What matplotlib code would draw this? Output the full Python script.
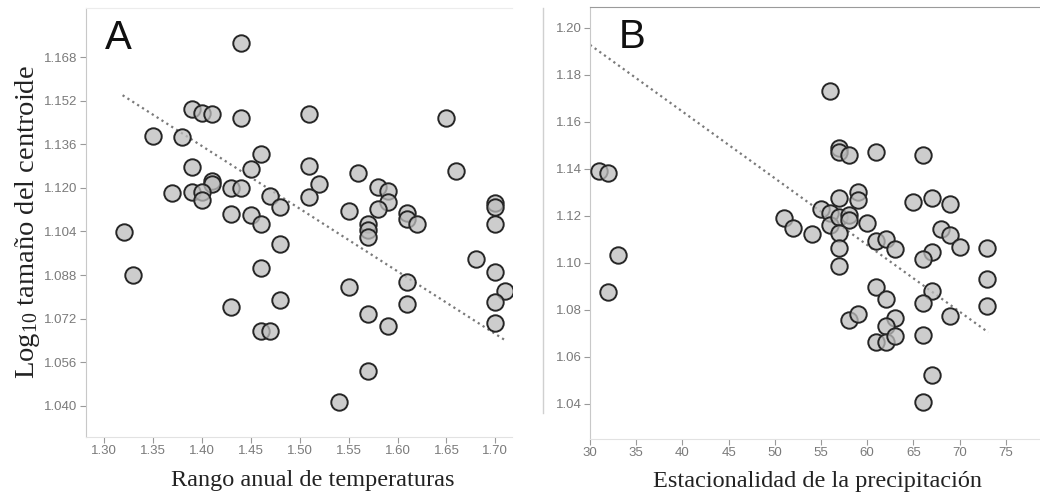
import matplotlib
matplotlib.use("Agg")
import matplotlib.pyplot as plt
from matplotlib.lines import Line2D

# ── Panel A: rango anual de temperaturas ──
temp_x = [1.44, 1.39, 1.40, 1.41, 1.44, 1.51, 1.65, 1.35, 1.38, 1.46,
          1.39, 1.45, 1.51, 1.66, 1.56, 1.41, 1.41, 1.52, 1.37, 1.39,
          1.40, 1.40, 1.43, 1.44, 1.47, 1.48, 1.51, 1.58, 1.59, 1.59,
          1.58, 1.55, 1.61, 1.61, 1.62, 1.70, 1.70, 1.70, 1.43, 1.45,
          1.46, 1.57, 1.57, 1.57, 1.32, 1.48, 1.33, 1.46, 1.68, 1.70,
          1.61, 1.55, 1.71, 1.70, 1.48, 1.43, 1.61, 1.57, 1.59, 1.70,
          1.46, 1.47, 1.57, 1.54]
temp_y = [1.173, 1.149, 1.1475, 1.147, 1.1456, 1.147, 1.1456, 1.139, 1.1386, 1.1324,
          1.1275, 1.1271, 1.128, 1.1262, 1.1254, 1.1225, 1.1215, 1.1214, 1.118, 1.1186,
          1.1186, 1.1155, 1.1198, 1.1198, 1.117, 1.113, 1.1166, 1.1203, 1.119, 1.1148,
          1.1122, 1.1116, 1.1107, 1.1085, 1.1067, 1.1144, 1.113, 1.1067, 1.1106, 1.110,
          1.1067, 1.1069, 1.1045, 1.102, 1.1038, 1.0994, 1.088, 1.0906, 1.0939, 1.0891,
          1.0854, 1.0836, 1.0821, 1.0781, 1.0788, 1.0763, 1.0774, 1.0737, 1.0693, 1.0704,
          1.0675, 1.0675, 1.0528, 1.0414]
temp_trend_x = [1.319, 1.710]
temp_trend_y = [1.154, 1.0641]
temp_xticks = [1.30, 1.35, 1.40, 1.45, 1.50, 1.55, 1.60, 1.65, 1.70]
temp_yticks = [1.040, 1.056, 1.072, 1.088, 1.104, 1.120, 1.136, 1.152, 1.168]

# ── Panel B: estacionalidad de la precipitación ──
prec_x = [56, 57, 57, 58, 61, 66, 31, 32, 59, 59,
          57, 65, 67, 69, 55, 56, 56, 57, 58, 58,
          60, 51, 52, 54, 57, 68, 69, 61, 62, 63,
          67, 70, 73, 57, 57, 33, 66, 73, 73, 32,
          61, 62, 67, 66, 69, 58, 59, 63, 62, 61,
          62, 63, 66, 67, 66]
prec_y = [1.1732, 1.1489, 1.1472, 1.146, 1.1472, 1.1457, 1.1391, 1.1383, 1.1303, 1.1268,
          1.1275, 1.126, 1.1278, 1.125, 1.1228, 1.1212, 1.1162, 1.1197, 1.1204, 1.1183,
          1.1169, 1.119, 1.1148, 1.1123, 1.1129, 1.1143, 1.1119, 1.1091, 1.1102, 1.1058,
          1.1044, 1.1067, 1.1062, 1.1063, 1.0987, 1.1035, 1.1017, 1.0932, 1.0817, 1.0874,
          1.0899, 1.0847, 1.0882, 1.0831, 1.0775, 1.0757, 1.0783, 1.0765, 1.0729, 1.0665,
          1.0665, 1.0687, 1.0694, 1.0521, 1.0406]
prec_trend_x = [30.0, 73.1]
prec_trend_y = [1.1928, 1.0704]
prec_xticks = [30, 35, 40, 45, 50, 55, 60, 65, 70, 75]
prec_yticks = [1.04, 1.06, 1.08, 1.10, 1.12, 1.14, 1.16, 1.18, 1.20]

plt.rcParams["mathtext.fontset"] = "custom"
plt.rcParams["mathtext.rm"] = "Liberation Serif"
plt.rcParams["mathtext.it"] = "Liberation Serif:italic"

SERIF = "Liberation Serif"
SANS = "Liberation Sans"
TICK_GREY = "#7a7a7a"


def style_panel(ax, xticks, yticks, xfmt, yfmt):
    ax.set_xticks(xticks)
    ax.set_yticks(yticks)
    ax.set_xticklabels([xfmt.format(v) for v in xticks])
    ax.set_yticklabels([yfmt.format(v) for v in yticks])
    ax.tick_params(axis="both", direction="out", length=4, width=0.8,
                   color="#9a9a9a", labelcolor=TICK_GREY, labelsize=9.5, pad=2)
    for lab in ax.get_xticklabels() + ax.get_yticklabels():
        lab.set_family(SANS)
    ax.spines["right"].set_visible(False)
    ax.spines["left"].set_color("#c8c8c8")
    ax.spines["bottom"].set_color("#e2e2e2")


def draw_points(ax, x, y, tx, ty):
    ax.plot(tx, ty, linestyle=(0, (1, 1.6)), color="#7a7a7a", linewidth=1.6, zorder=1)
    ax.scatter(x, y, s=140, facecolors=(0.74, 0.74, 0.74, 0.75),
               edgecolors="#262626", linewidths=1.4, zorder=3)


fig = plt.figure(figsize=(10.4, 4.95), dpi=100)

# Panel A
axA = fig.add_axes([86 / 1040, 1 - 437 / 495, 426 / 1040, 429 / 495])
draw_points(axA, temp_x, temp_y, temp_trend_x, temp_trend_y)
axA.set_xlim(1.2816, 1.717)
axA.set_ylim(1.0286, 1.186)
style_panel(axA, temp_xticks, temp_yticks, "{:.2f}", "{:.3f}")
axA.spines["top"].set_color("#ececec")
axA.set_xlabel("Rango anual de temperaturas", family=SERIF, fontsize=17.5,
               color="#222222")
axA.xaxis.set_label_coords(0.533, -0.078)
axA.set_ylabel("Log$_{10}$ tamaño del centroide", family=SERIF, fontsize=20.5,
               color="#222222", labelpad=2)
axA.text(0.045, 0.975, "A", transform=axA.transAxes, family=SANS, fontsize=29,
         va="top", ha="left", color="#111111")

# Panel B
axB = fig.add_axes([590 / 1040, 1 - 439 / 495, 450 / 1040, 432 / 495])
draw_points(axB, prec_x, prec_y, prec_trend_x, prec_trend_y)
axB.set_xlim(30, 78.7)
axB.set_ylim(1.025, 1.2089)
style_panel(axB, prec_xticks, prec_yticks, "{:d}", "{:.2f}")
axB.spines["top"].set_color("#9a9a9a")
axB.set_xlabel("Estacionalidad de la precipitación", family=SERIF, fontsize=17.5,
               color="#222222")
axB.xaxis.set_label_coords(0.505, -0.073)
axB.text(0.065, 0.975, "B", transform=axB.transAxes, family=SANS, fontsize=29,
         va="top", ha="left", color="#111111")

# faint frame line between the two panels
fig.add_artist(Line2D([543 / 1040, 543 / 1040], [1 - 413 / 495, 1 - 8 / 495],
                      color="#d0d0d0", linewidth=1.0))

fig.savefig("out.png", dpi=100)
